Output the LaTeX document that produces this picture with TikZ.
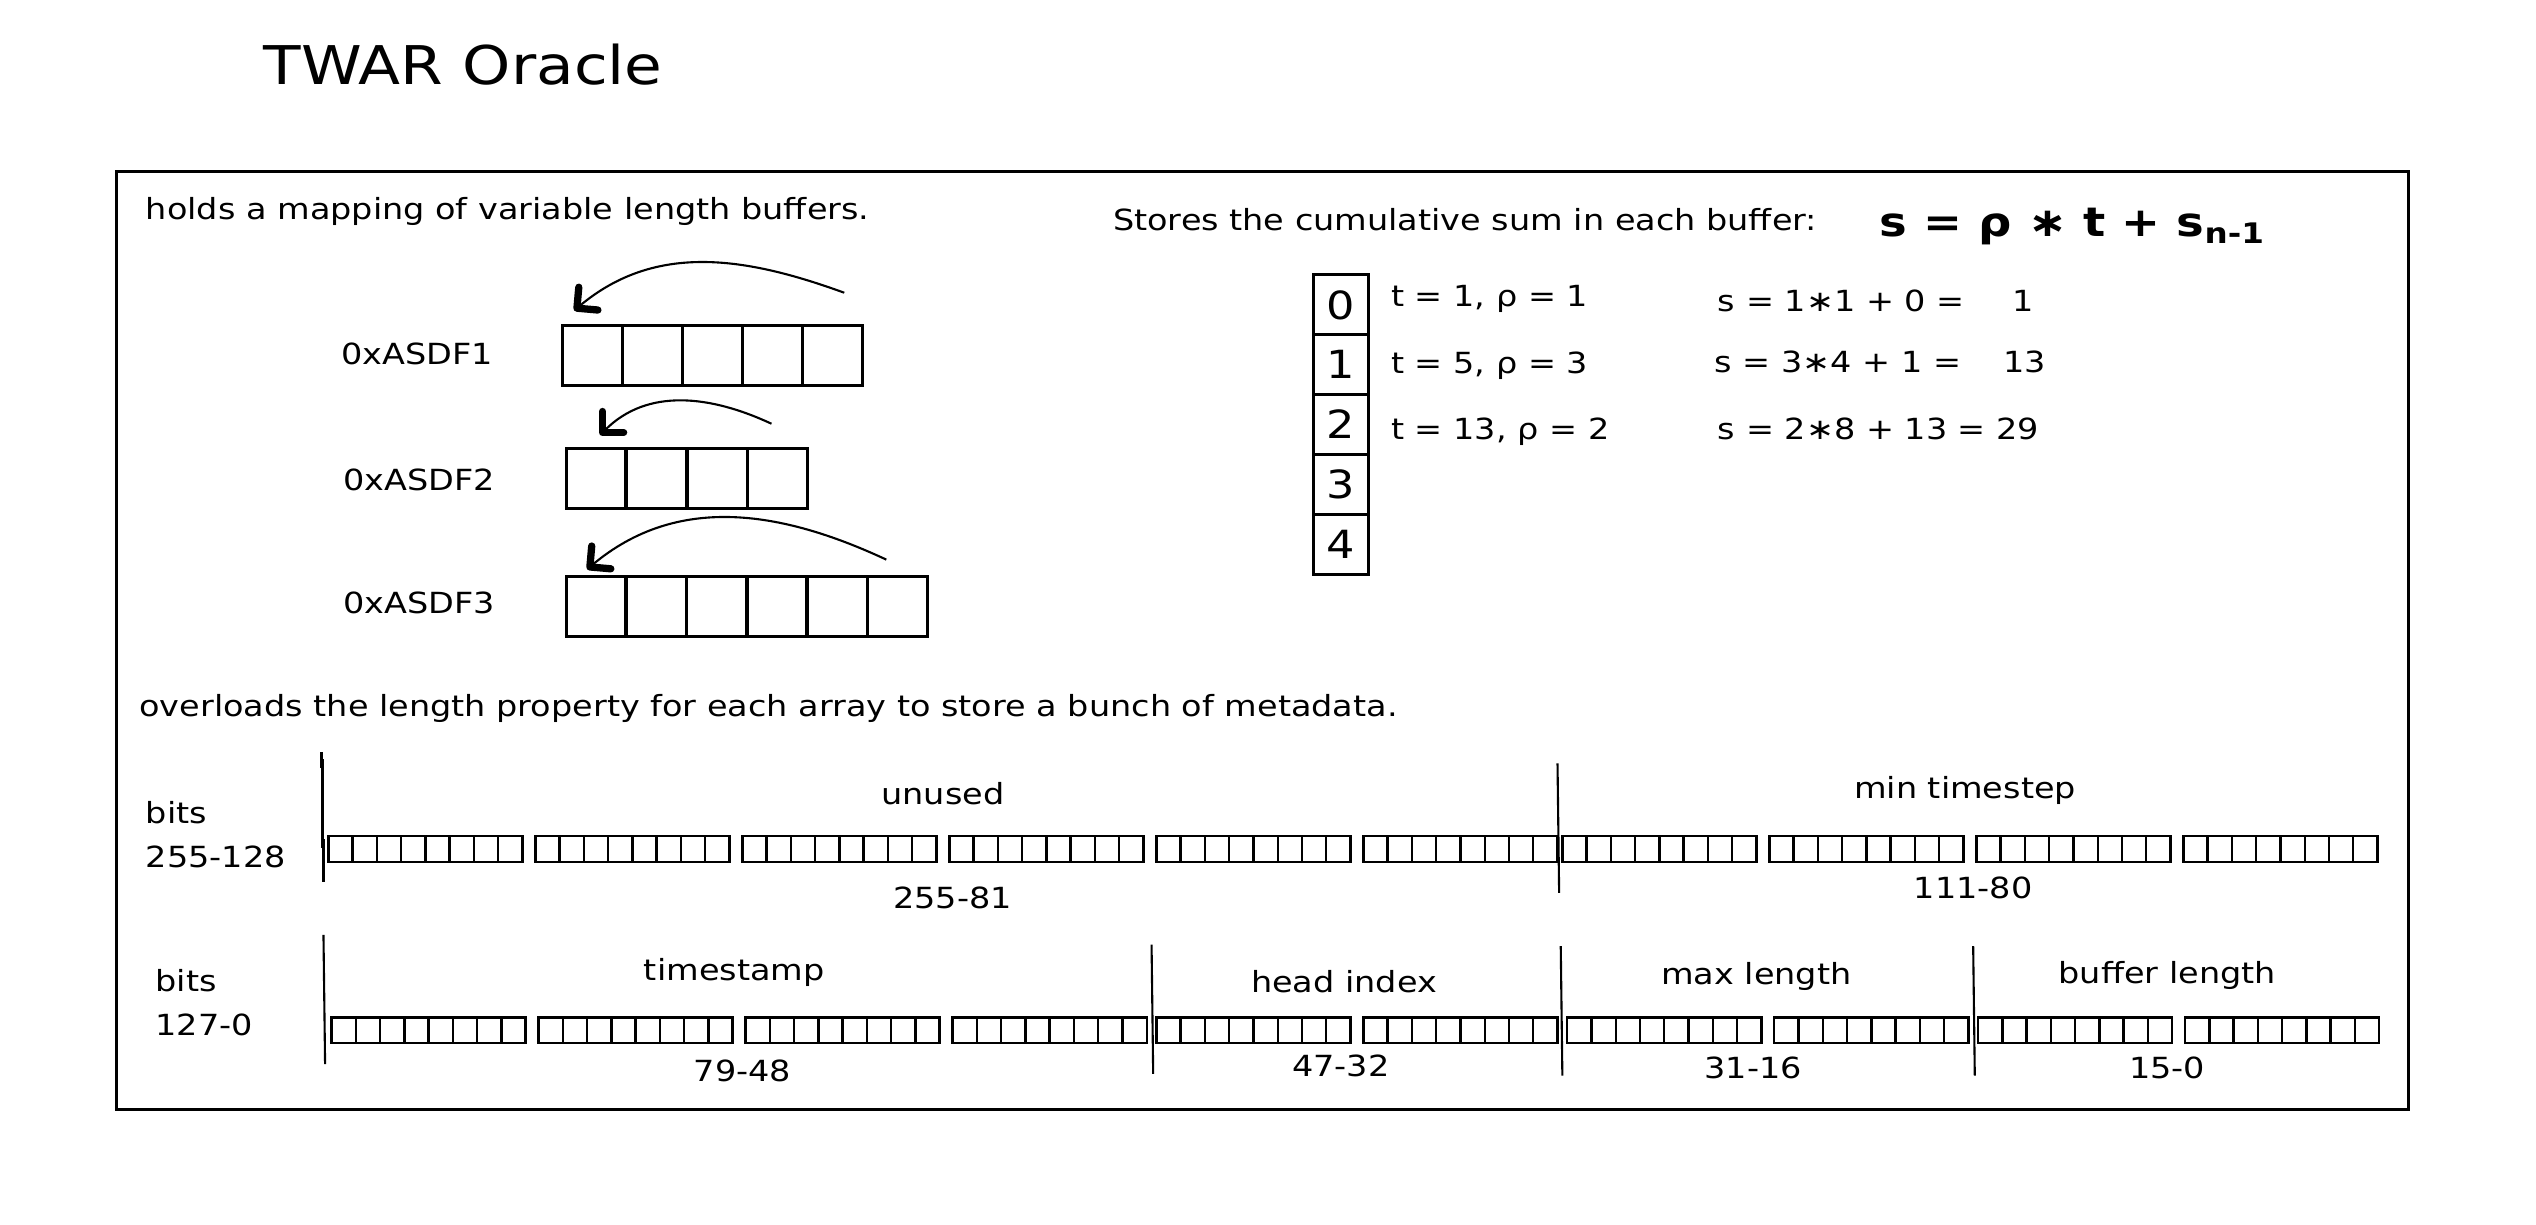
\documentclass[tikz,border=0pt]{standalone}
\usepackage{fontspec}
\setmainfont{DejaVu Sans}[FakeStretch=1.15]
\usetikzlibrary{arrows.meta}
\tikzset{
cell/.style={draw, line width=1.8pt, minimum width=37pt, minimum height=37pt, inner sep=0pt},
slot/.style={draw, line width=1.8pt, minimum width=34pt, minimum height=37pt,
	inner sep=0pt, font=\fontsize{24}{24}\selectfont},
bit/.style={draw, line width=1.5pt, minimum width=15pt, minimum height=16pt, inner sep=0pt},
txt/.style={inner sep=0pt, font=\fontsize{18}{20}\selectfont},
fence/.style={line width=1.3pt},
ptr/.style={line width=1.3pt, -{Straight Barb[angle=90:13pt, line width=4.5pt, round]}}
}
\newcommand{\bitgroup}[3]{%
	\foreach \k in {0,...,7}
		\node[bit] (#1-\k) at ({#2+7.5+15*\k},#3) {};
}

\begin{document}
\begin{tikzpicture}[x=1pt, y=-1pt]
	\useasboundingbox (0,0) rectangle (1568,757);
	\node[anchor=west, inner sep=0pt, font=\fontsize{33}{40}\selectfont] (title) at (163,40) {TWAR Oracle};
	\draw[line width=1.6pt] (72,106) rectangle (1489,686);

	% buffers
	\node[txt, anchor=west] (holds) at (90,131) {holds a mapping of variable length buffers.};
	\node[txt] (keya) at (258,219) {0xASDF1};
	\node[txt] (keyb) at (259,297) {0xASDF2};
	\node[txt] (keyc) at (259,373) {0xASDF3};
	\foreach \i in {1,...,5}
		\node[cell] (bufa-\i) at ({366.5+37*(\i-1)},220) {};
	\foreach \i in {1,...,4}
		\node[cell] (bufb-\i) at ({368.5+37.5*(\i-1)},296) {};
	\foreach \i in {1,...,6}
		\node[cell] (bufc-\i) at ({368.5+37.3*(\i-1)},375) {};
	\coordinate (taila) at (522,181);
	\coordinate (heada) at (355,192);
	\coordinate (tailb) at (477,262);
	\coordinate (headb) at (371,269);
	\coordinate (tailc) at (548,346);
	\coordinate (headc) at (363,352);
	\draw[ptr] (taila) to[out=160,in=40] (heada);
	\draw[ptr] (tailb) to[out=155,in=45] (headb);
	\draw[ptr] (tailc) to[out=155,in=40] (headc);

	% cumulative sum
	\node[txt, anchor=west] (stores) at (688,136) {Stores the cumulative sum in each buffer:};
	\node[anchor=west, inner sep=0pt, font=\fontsize{25}{30}\selectfont\bfseries] (rule) at (1162,140)
		{s = ρ ∗ t + s\textsubscript{n-1}};
	\foreach \v in {0,...,4}
		\node[slot] (slot\v) at (829,{188.5+37*\v}) {\v};
	\node[txt, anchor=west] (tp0) at (860,185) {t = 1, ρ = 1};
	\node[txt, anchor=west] (tp1) at (860,226) {t = 5, ρ = 3};
	\node[txt, anchor=west] (tp2) at (860,267) {t = 13, ρ = 2};
	\node[txt, anchor=west] (sum0) at (1062,186) {s = 1∗1 + 0 =};
	\node[txt, anchor=west] (sum1) at (1060,224) {s = 3∗4 + 1 =};
	\node[txt, anchor=west] (sum2) at (1062,265) {s = 2∗8 + 13 = 29};
	\node[txt] (res0) at (1251,186) {1};
	\node[txt] (res1) at (1252,224) {13};

	% bit layout
	\node[txt, anchor=west] (over) at (86,438)
		{overloads the length property for each array to store a bunch of metadata.};
	\node[txt, anchor=west, align=left, font=\fontsize{18}{27}\selectfont] (hi) at (90,516) {bits\\255-128};
	\node[txt, anchor=west, align=left, font=\fontsize{18}{27}\selectfont] (lo) at (96,620) {bits\\127-0};
	\foreach \x [count=\n] in {203,331,459,587,715,843,966,1094,1222,1350}
		\bitgroup{hi\n}{\x}{525}
	\foreach \x [count=\n] in {205,333,461,589,715,843,969,1097,1223,1351}
		\bitgroup{lo\n}{\x}{637}
	\draw[fence] (199,465) -- (200,545);
	\draw[fence] (963,472) -- (964,552);
	\draw[fence] (200,578) -- (201,658);
	\draw[fence] (712,584) -- (713,664);
	\draw[fence] (965,585) -- (966,665);
	\draw[fence] (1220,585) -- (1221,665);
	\node[txt] (unused) at (583,491) {unused};
	\node[txt] (unusedr) at (589,555) {255-81};
	\node[txt] (minstep) at (1215,489) {min timestep};
	\node[txt] (minstepr) at (1220,549) {111-80};
	\node[txt] (stamp) at (454,601) {timestamp};
	\node[txt] (stampr) at (459,662) {79-48};
	\node[txt] (head) at (831,607) {head index};
	\node[txt] (headr) at (829,659) {47-32};
	\node[txt] (maxlen) at (1086,604) {max length};
	\node[txt] (maxlenr) at (1084,660) {31-16};
	\node[txt] (buflen) at (1340,603) {buffer length};
	\node[txt] (buflenr) at (1340,660) {15-0};
\end{tikzpicture}
\end{document}
